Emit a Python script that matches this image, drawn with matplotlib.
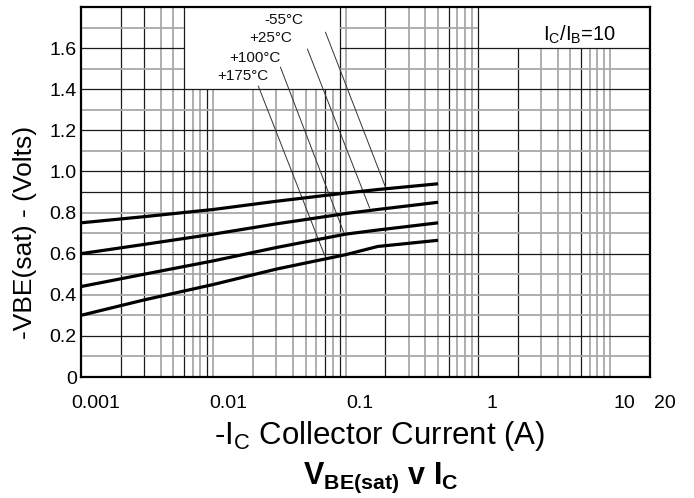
import matplotlib
matplotlib.use("Agg")
import matplotlib.pyplot as plt
import matplotlib.transforms as mtransforms
import numpy as np

plt.rcParams['font.family'] = ['Liberation Sans', 'DejaVu Sans']
plt.rcParams['mathtext.fontset'] = 'custom'
plt.rcParams['mathtext.rm'] = 'Liberation Sans'
plt.rcParams['mathtext.it'] = 'Liberation Sans:italic'
plt.rcParams['mathtext.bf'] = 'Liberation Sans:bold'

# ---- data ----
ic = [0.001, 0.003, 0.01, 0.03, 0.1, 0.175, 0.5]
vbe_m55 = [0.75, 0.78, 0.815, 0.855, 0.895, 0.912, 0.94]
vbe_25 = [0.60, 0.645, 0.695, 0.745, 0.795, 0.815, 0.85]
vbe_100 = [0.44, 0.50, 0.565, 0.63, 0.695, 0.715, 0.75]
vbe_175 = [0.30, 0.375, 0.45, 0.525, 0.595, 0.635, 0.665]
series_labels = ['-55°C', '+25°C', '+100°C', '+175°C']
label_pos = [(0.0339, 1.735), (0.027, 1.648), (0.0208, 1.551), (0.0166, 1.463)]
leader_start = [(0.0705, 1.677), (0.0515, 1.595), (0.0322, 1.507), (0.0219, 1.415)]
leader_end = [(0.2015, 0.919), (0.152, 0.822), (0.0966, 0.705), (0.0693, 0.593)]
xticks = [0.001, 0.01, 0.1, 1, 10, 20]
xtick_labels = ['0.001', '0.01', '0.1', '1', '10', '20']
yticks = [0, 0.2, 0.4, 0.6, 0.8, 1.0, 1.2, 1.4, 1.6]
ytick_labels = ['0', '0.2', '0.4', '0.6', '0.8', '1.0', '1.2', '1.4', '1.6']

fig = plt.figure(figsize=(6.94, 4.98), dpi=100)
ax = fig.add_axes([81/694, 1 - 377/498, (650-81)/694, (377-7)/498])
ax.set_xscale('log')
ax.set_xlim(0.001, 20)
ax.set_ylim(0, 1.8)

# ---- grid (drawn with gaps for the label boxes) ----
dark_x = [0.002, 0.003, 0.006, 0.009, 0.07, 0.09, 0.2, 0.6, 1, 2, 6]
vx = []
for e in [0.001, 0.01, 0.1, 1, 10]:
    for m in range(1, 10):
        v = round(e * m, 6)
        if 0.001 < v < 20:
            vx.append(v)
for v in vx:
    if 0.006 < v < 0.09:
        top = 1.4
    elif 1 < v < 20:
        top = 1.6
    else:
        top = 1.8
    dark = any(abs(v - d) < 1e-9 for d in dark_x)
    ax.vlines(v, 0, top, colors='#1a1a1a' if dark else '#a8a8a8',
              linewidth=0.9 if dark else 1.3, zorder=1)

dark_y = [0.2, 0.6, 0.9, 1.0, 1.2, 1.4, 1.6]
for k in range(1, 18):
    yv = round(k * 0.1, 3)
    dark = any(abs(yv - d) < 1e-9 for d in dark_y)
    col = '#1a1a1a' if dark else '#a8a8a8'
    lw = 0.9 if dark else 1.3
    if yv > 1.4:
        segs = [(0.001, 0.006), (0.09, 1 if yv > 1.6 else 20)]
    else:
        segs = [(0.001, 20)]
    for a, b in segs:
        ax.hlines(yv, a, b, colors=col, linewidth=lw, zorder=1)

# ---- curves ----
for vals in [vbe_m55, vbe_25, vbe_100, vbe_175]:
    ax.plot(ic, vals, color='black', linewidth=2.3, zorder=3,
            solid_capstyle='butt')

# ---- annotations ----
for lab, (lx, ly), (sx, sy), (ex, ey) in zip(series_labels, label_pos,
                                              leader_start, leader_end):
    ax.text(lx, ly, lab, fontsize=11, ha='center', va='center', zorder=4,
            color='#111111')
    ax.plot([sx, ex], [sy, ey], color='#333333', linewidth=0.7, zorder=2)

ax.text(0.877, 0.925, 'I$_\\mathregular{C}$/I$_\\mathregular{B}$=10',
        transform=ax.transAxes, fontsize=14.5, ha='center', va='center')

# ---- axes styling ----
for s in ax.spines.values():
    s.set_linewidth(1.6)
    s.set_color('black')
    s.set_zorder(5)
ax.tick_params(which='both', length=0)
ax.set_xticks(xticks)
ax.set_xticklabels(xtick_labels, fontsize=14)
ax.xaxis.set_minor_locator(matplotlib.ticker.NullLocator())
ax.set_yticks(yticks)
ax.set_yticklabels(ytick_labels, fontsize=14)
ax.tick_params(axis='x', pad=13)
ax.tick_params(axis='y', pad=3)
offset = mtransforms.ScaledTranslation(0.145, 0, fig.dpi_scale_trans)
for lbl in ax.get_xticklabels():
    lbl.set_transform(lbl.get_transform() + offset)

ax.set_ylabel('-VBE(sat) - (Volts)', fontsize=19)
ax.yaxis.set_label_coords(-0.078, 0.39)

fig.text(380/694, 1 - 436/498, '-I$_\\mathregular{C}$ Collector Current (A)',
         fontsize=22.5, ha='center', va='center')
fig.text(381/694, 1 - 478/498, '$\\mathbf{V_{BE(sat)}\\ v\\ I_C}$',
         fontsize=22, ha='center', va='center')

fig.savefig('out.png', dpi=100)
